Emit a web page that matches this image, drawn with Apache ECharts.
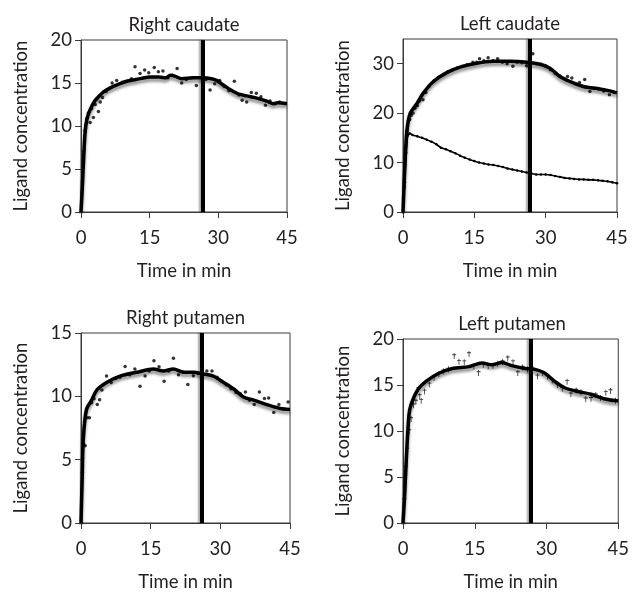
<!DOCTYPE html>
<html>
<head>
<meta charset="utf-8">
<script src="https://cdn.jsdelivr.net/npm/echarts@6/dist/echarts.min.js"></script>
<style>html,body{margin:0;padding:0;background:#fff}#c{width:632px;height:593px}</style>
</head>
<body>
<div id="c"></div>
<script>
// ---- data ----
var panelTitles = ['Right caudate', 'Left caudate', 'Right putamen', 'Left putamen'];
var xTicks = [0, 15, 30, 45];
var yTicksRC = [0, 5, 10, 15, 20];
var yTicksLC = [0, 10, 20, 30];
var yTicksRP = [0, 5, 10, 15];
var yTicksLP = [0, 5, 10, 15, 20];
var yMax = [20, 35, 15, 20];
var boundaryTimes = [26.7, 26.7, 26.0, 26.8];

var fitRC = [[0,0],[0.3,3],[0.6,6.5],[0.9,9.3],[1.3,10.8],[2,11.9],[3,12.9],[4,13.5],[5,14.0],[6.3,14.4],[8,14.8],[10,15.2],[12,15.4],[15,15.7],[17,15.7],[18.5,15.6],[19.5,15.9],[20.5,15.8],[22,15.5],[24.5,15.6],[26.6,15.6],[28.5,15.5],[29.6,15.3],[31,14.8],[33.3,14.0],[34.5,13.7],[36.2,13.5],[38,13.3],[40.6,12.9],[42,12.6],[43,12.7],[45,12.6]];
var obsRC = [[0.3,3.5],[0.6,7],[0.9,9.5],[1.2,10.8],[1.6,11.5],[2.0,10.4],[2.3,12.0],[2.7,11.0],[3.1,12.5],[3.4,13.1],[3.8,11.7],[4.2,12.8],[4.7,13.3],[5.5,14.0],[6.8,15.0],[7.8,15.3],[9,15.1],[10,15.2],[11,15.5],[11.8,16.9],[12.9,16.1],[13.9,16.5],[14.8,16.2],[16,16.8],[16.9,16.3],[17.9,16.4],[19,15.6],[20,15.9],[21,16.7],[22,15.0],[23,15.4],[24.2,15.6],[25.2,14.7],[26.3,15.6],[27.3,15.4],[28.2,14.2],[29.2,14.9],[30.3,15.3],[31.3,14.6],[32.3,14.1],[33.5,15.2],[34.5,13.6],[35.2,13.0],[36.2,12.8],[37.2,13.9],[38.3,13.8],[39.3,13.4],[40.3,12.4],[41.3,12.9],[42.4,12.6],[43.4,12.8],[44.5,12.6]];

var fitLC = [[0,0],[0.48,11.2],[0.84,16.6],[1.53,20],[2.9,21.9],[4.3,24.1],[6.4,26.4],[9.2,28.2],[12,29.3],[15.5,30.1],[19,30.5],[22.5,30.5],[26,30.3],[28.8,29.9],[30.9,29.1],[33,27.4],[35.1,26.4],[37.9,25.4],[41.4,24.9],[43.5,24.5],[45,24.1]];
var obsLC = [[0.3,6],[0.6,12],[0.9,16.5],[1.2,18.5],[1.4,18.7],[1.7,19.5],[2.1,20.0],[2.5,21.0],[3,21.5],[3.5,22.5],[4.2,22.7],[4.8,24.2],[5.5,25.5],[6.5,26.5],[7.5,27.2],[8.5,27.8],[9.5,28.4],[10.5,28.8],[11.5,29.2],[12.5,29.5],[13.5,29.8],[14.7,30.3],[15.5,30.3],[16.1,31.0],[17,30.6],[17.9,31.2],[18.9,30.6],[19.9,31.0],[20.9,30.3],[21.9,30.0],[23.1,29.5],[24,30.3],[25,30.2],[26,29.6],[26.8,30.0],[27.3,32.0],[28.1,30.0],[29,29.9],[30,29.5],[31,28.8],[32,28.0],[33,27.5],[34.6,27.4],[35.5,27.1],[36.2,26.0],[37.1,26.2],[38.2,26.8],[39.3,24.4],[40.2,25.0],[41.1,24.9],[42.2,24.5],[43.4,23.7],[44.4,24.2]];
var plasmaLC = [[0,0],[0.3,5],[0.6,11],[1.0,15.5],[1.4,15.9],[2,15.6],[3,15.3],[4,15.0],[5,14.6],[6,14.2],[7,13.7],[8,13.0],[9,12.7],[10,12.3],[11,11.9],[12,11.4],[13,11.0],[14,10.6],[15,10.3],[16,10.0],[17,9.8],[18,9.6],[19,9.5],[20,9.3],[21,9.1],[22,8.8],[23,8.6],[24,8.4],[25,8.2],[26,8.0],[27,7.8],[28,7.6],[29,7.6],[30,7.6],[31,7.5],[32,7.3],[33,7.1],[34,6.9],[35,6.8],[36,6.7],[37,6.6],[38,6.6],[39,6.5],[40,6.5],[41,6.4],[42,6.3],[43,6.2],[44,6.0],[45,5.8]];

var fitRP = [[0,0],[0.25,3.5],[0.5,6.7],[1.2,9.0],[2.3,9.7],[3.4,10.5],[5.5,11.1],[8.4,11.6],[12,11.9],[15.6,12.15],[17.7,12.0],[19.9,12.15],[22.1,11.9],[24.2,11.9],[26.4,11.76],[28.5,11.6],[30.7,11.1],[32.8,10.6],[35,9.95],[37.2,9.7],[40,9.35],[42.9,9.04],[45,8.96]];
var obsRP = [[0.3,4],[0.6,6.2],[0.9,6.1],[1.3,8.3],[1.8,8.3],[2.3,9.5],[2.8,9.8],[3.5,9.35],[4,9.74],[4.5,10.5],[5.5,11.6],[6.5,11.1],[7.5,11.4],[8.4,11.5],[9.5,12.36],[10.5,11.7],[11.6,12.15],[12.7,10.8],[13.8,11.6],[14.7,12.0],[15.7,12.8],[16.8,12.33],[17.9,11.2],[18.9,12.0],[19.9,13.0],[21,11.7],[22,11.9],[23,10.93],[24.2,11.63],[25.2,11.8],[26.3,11.7],[27.1,12.0],[28.2,12.0],[29.3,11.5],[30.3,11.2],[31.3,10.9],[32.3,10.6],[33.4,10.3],[34.3,10.2],[35.4,10.34],[36.3,9.7],[37.3,9.35],[38.4,10.34],[39.5,9.82],[40.4,9.87],[41.5,8.73],[42.6,9.35],[43.6,9.0],[44.6,9.56]];

var fitLP = [[0,0],[0.35,3.1],[0.7,7],[1.24,11.7],[1.7,12.9],[3.1,14.5],[4.8,15.4],[7.6,16.3],[10.3,16.8],[13.8,17.0],[16.5,17.4],[18.6,17.2],[20.7,17.45],[22.7,17.1],[25.5,16.8],[27.6,16.7],[29.6,16.3],[31.7,15.4],[33.8,14.7],[36.5,14.3],[39.3,14.0],[42,13.5],[44.8,13.3],[45,13.3]];
var obsLP = [[0.3,2.5],[0.6,6],[0.9,8],[1.3,10],[1.7,11.3],[2.2,12.8],[2.7,13.2],[3.2,14.6],[3.5,13.8],[3.8,13.3],[4.5,14.3],[5.5,15.06],[6.5,15.8],[7.5,16.2],[8.5,16.5],[9.5,16.7],[10.7,18.15],[11.7,17.54],[12.8,17.48],[13.8,18.37],[14.8,17.0],[15.8,16.3],[16.8,17.2],[17.8,17.0],[18.8,17.1],[19.8,17.3],[20.8,17.5],[21.9,17.9],[23,17.48],[24,16.3],[25,16.9],[26,16.7],[27,16.8],[28.1,15.94],[29.2,16.3],[30.2,15.9],[31.2,15.5],[32.3,15.0],[33.3,14.6],[34.3,15.34],[35.1,13.99],[36.2,14.4],[37.2,14.2],[38.2,13.45],[39.3,13.5],[40.3,13.9],[41.3,13.6],[42.4,14.17],[43.4,14.34],[44.4,13.3]];

// ---- chart ----
var FONT = 'Lato, "Open Sans", sans-serif';
var TXT = '#231f20';
var grids = [
  {left: 81, top: 40, width: 206, height: 172},
  {left: 403, top: 39, width: 214, height: 173},
  {left: 81, top: 333, width: 209, height: 193},
  {left: 403, top: 339, width: 218, height: 187}
];
var yTicksAll = [yTicksRC, yTicksLC, yTicksRP, yTicksLP];
var fits = [fitRC, fitLC, fitRP, fitLP];
var obs = [obsRC, obsLC, obsRP, obsLP];

var option = {
  backgroundColor: '#fff',
  animation: false,
  grid: [], xAxis: [], yAxis: [], series: [], graphic: []
};
grids.forEach(function (g, i) {
  option.grid.push({left: g.left, top: g.top, width: g.width, height: g.height, show: true,
    borderColor: '#3a3a3a', borderWidth: 1, backgroundColor: 'transparent'});
  option.xAxis.push({
    type: 'value', gridIndex: i, min: 0, max: 45, interval: 15,
    name: 'Time in min', nameLocation: 'middle', nameGap: 50,
    nameTextStyle: {fontFamily: FONT, fontSize: 18.5, color: TXT},
    axisLine: {show: true, onZero: false, lineStyle: {color: '#3a3a3a', width: 1}},
    axisTick: {show: true, inside: false, length: 6, lineStyle: {color: '#3a3a3a'}, customValues: xTicks},
    axisLabel: {fontFamily: FONT, fontSize: 18.5, color: TXT, margin: 17, customValues: xTicks},
    splitLine: {show: false}
  });
  var yt = yTicksAll[i];
  option.yAxis.push({
    type: 'value', gridIndex: i, min: 0, max: yMax[i], interval: yt[1] - yt[0],
    name: 'Ligand concentration', nameLocation: 'middle', nameGap: 50,
    nameTextStyle: {fontFamily: FONT, fontSize: 18.5, color: TXT},
    axisLine: {show: true, onZero: false, lineStyle: {color: '#3a3a3a', width: 1}},
    axisTick: {show: true, inside: false, length: 6, lineStyle: {color: '#3a3a3a'}, customValues: yt},
    axisLabel: {fontFamily: FONT, fontSize: 18.5, color: TXT, margin: 9, customValues: yt},
    splitLine: {show: false}
  });
  option.series.push({
    type: 'line', xAxisIndex: i, yAxisIndex: i, data: fits[i], smooth: 0.3,
    showSymbol: false, z: 3,
    lineStyle: {color: '#000', width: 3.5, shadowColor: 'rgba(0,0,0,0.45)', shadowBlur: 3, shadowOffsetY: 3},
    markLine: {
      silent: true, symbol: ['none', 'none'], label: {show: false},
      lineStyle: {color: '#000', width: 4, type: 'solid', shadowColor: 'rgba(0,0,0,0.35)', shadowBlur: 2, shadowOffsetX: -2},
      data: [{xAxis: boundaryTimes[i]}]
    }
  });
  option.series.push({
    type: 'scatter', xAxisIndex: i, yAxisIndex: i, data: obs[i], z: 4,
    symbol: i === 3 ? 'path://M4,0 L6,0 L6,3 L10,3 L10,5 L6,5 L6,14 L4,14 L4,5 L0,5 L0,3 L4,3 Z' : 'circle',
    symbolSize: i === 3 ? [4, 6] : 3.5,
    itemStyle: {color: '#000'}
  });
  option.graphic.push({
    type: 'text', x: g.left + g.width / 2, y: g.top - 15,
    style: {text: panelTitles[i], font: '18.5px ' + FONT, fill: TXT, textAlign: 'center', textVerticalAlign: 'middle'}
  });
});
option.series.push({
  type: 'line', xAxisIndex: 1, yAxisIndex: 1, data: plasmaLC, smooth: 0.2,
  showSymbol: true, symbol: 'circle', symbolSize: 2.5, z: 3,
  itemStyle: {color: '#000'},
  lineStyle: {color: '#000', width: 1.6}
});

var chart = echarts.init(document.getElementById('c'), null, {renderer: 'canvas'});
chart.setOption(option);
</script>
</body>
</html>
